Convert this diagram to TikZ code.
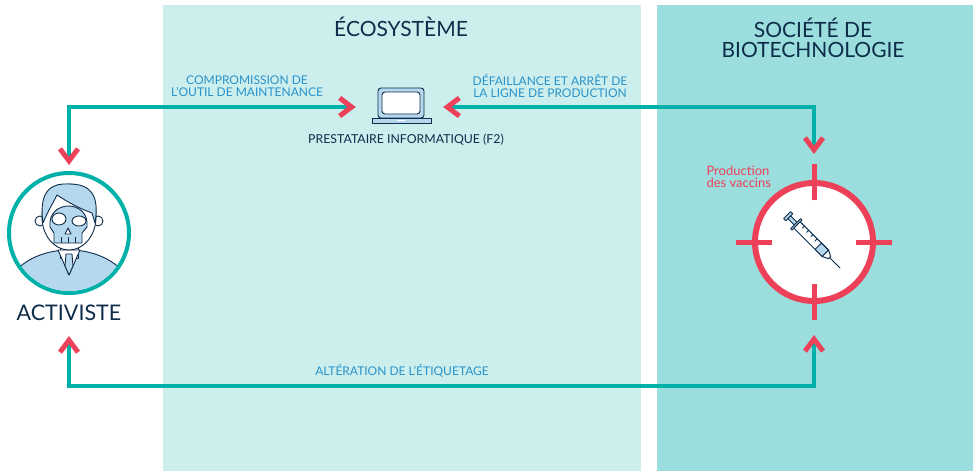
\documentclass[tikz,border=0pt]{standalone}
\usepackage{fontspec}
\setmainfont{Lato}
\usetikzlibrary{arrows.meta}

\definecolor{lineteal}{HTML}{00B1A9}
\definecolor{tipred}{HTML}{EC4159}
\definecolor{ecobg}{HTML}{CCEEED}
\definecolor{socbg}{HTML}{9BDEDD}
\definecolor{navy}{HTML}{0E2D4B}
\definecolor{labelblue}{HTML}{2A93CB}
\definecolor{iconblue}{HTML}{B6D8EE}

\tikzset{redbarb/.tip={Straight Barb[color=tipred,length=12pt,width=18pt,line width=5pt]}}

\begin{document}
\begin{tikzpicture}[x=1pt,y=-1pt,
    title/.style={text=navy,font=\fontsize{21}{20}\selectfont,align=center},
    caption/.style={text=labelblue,font=\fontsize{12}{12}\selectfont,align=center},
    link/.style={draw=lineteal,line width=4pt,arrows={redbarb-redbarb}},
    icon/.style={draw=navy,line width=0.9pt,line join=round},
]
\useasboundingbox (0,0) rectangle (973,471);
\fill[white] (0,0) rectangle (973,471);

% panels
\fill[ecobg] (163,5) rectangle (641,471);
\fill[socbg] (657,5) rectangle (973,471);
\node[title] (ecotitle) at (401,27) {ÉCOSYSTÈME};
\node[title] (soctitle) at (813,38) {SOCIÉTÉ DE\\BIOTECHNOLOGIE};

% activiste
\node[circle,draw=lineteal,line width=4pt,fill=white,minimum size=120pt] (activist) at (69,233) {};
\begin{scope}[shift={(activist.center)}]
\clip (0,0) circle (58);
\fill[iconblue,icon] (0,67) ellipse (66 and 50);
\fill[white,icon] (-9,5) rectangle (9,25);
\fill[white,icon] (-11,17) -- (0,42) -- (11,17) -- cycle;
\fill[iconblue,icon] (-3,21) -- (3,21) -- (4,33) -- (0,42) -- (-4,33) -- cycle;
\foreach \x in {-29,29} {
    \fill[white,icon] (\x,-12) circle (5);
}
\fill[white,icon] (0,-16) ellipse (27 and 33);
\fill[iconblue,icon] (-26,-10) .. controls (-31,-45) and (-15,-50) .. (0,-49)
    .. controls (20,-49) and (31,-40) .. (26,-10) -- (23,-20)
    .. controls (12,-24) and (0,-30) .. (-12,-38)
    .. controls (-16,-30) and (-21,-22) .. (-26,-10);
\fill[iconblue,icon] (-19,-6) .. controls (-22,-34) and (21,-34) .. (18,-6)
    -- (13,0) -- (13,10) -- (-15,10) -- (-15,0) -- cycle;
\fill[white,icon] (-10,-14) ellipse (7 and 6);
\fill[white,icon] (10,-12) ellipse (7 and 5);
\fill[white,icon] (-1,-5) -- (-4,1) -- (2,1) -- cycle;
\foreach \x in {-8,-1,6} {
    \draw[icon] (\x,4) -- (\x,10);
}
\end{scope}
\node[text=navy,font=\fontsize{21.5}{20}\selectfont,inner sep=0pt] (lbl) at (69,313) {ACTIVISTE};

% prestataire informatique
\node[minimum width=60pt,minimum height=36pt] (laptop) at (401,107) {};
\begin{scope}[shift={(laptop.center)}]
\filldraw[iconblue,icon,rounded corners=3pt] (-23,-19) rectangle (23,11);
\filldraw[white,icon,rounded corners=3pt] (-19,-15) rectangle (19,7);
\filldraw[iconblue,icon] (-29,11) rectangle (30,16);
\draw[white,line width=1pt] (-4,13.5) -- (4,13.5);
\end{scope}
\node[text=navy,font=\fontsize{12.3}{12}\selectfont] (f2) at (406,140) {PRESTATAIRE INFORMATIQUE (F2)};

% cible
\node[circle,draw=tipred,line width=6pt,fill=white,minimum size=118pt] (target) at (814,242) {};
\foreach \a in {0,90,180,270} {
    \draw[tipred,line width=5pt] (target.center) ++(\a:42) -- ++(\a:36);
}
\begin{scope}[shift={(target.center)},rotate=-45]
\filldraw[iconblue,icon] (-38,-5) rectangle (-35,5);
\filldraw[iconblue,icon] (-35,-2) rectangle (-26,2);
\filldraw[iconblue,icon] (-26,-7) rectangle (-24,7);
\filldraw[white,icon] (-24,-4.5) rectangle (16,4.5);
\filldraw[iconblue,icon] (6,-4.5) rectangle (16,4.5);
\foreach \t in {-18,-12,-6,0} {
    \draw[icon] (\t,-4.5) -- (\t,-1.5);
}
\filldraw[white,icon] (16,-4.5) -- (22,-1.5) -- (22,1.5) -- (16,4.5) -- cycle;
\draw[icon] (22,0) -- (37,0);
\end{scope}
\node[text=tipred,font=\fontsize{13}{12}\selectfont,align=left,anchor=west] (vaccins) at (703,177) {Production\\des vaccins};

% liens
\node[caption] (comp) at (247,86) {COMPROMISSION DE\\L’OUTIL DE MAINTENANCE};
\node[caption] (fail) at (550,86) {DÉFAILLANCE ET ARRÊT DE\\LA LIGNE DE PRODUCTION};
\node[caption] (alter) at (402,371) {ALTÉRATION DE L’ÉTIQUETAGE};
\coordinate (bend) at (69,386);
\draw[link,shorten <=15pt,shorten >=6pt] (laptop.west) -| (activist.north);
\draw[link,shorten <=12pt,shorten >=26pt] (laptop.east) -| (target.north);
\draw[link,shorten <=15pt,shorten >=31pt] (lbl.south) -- (lbl.south |- bend) -| (target.south);
\end{tikzpicture}
\end{document}
